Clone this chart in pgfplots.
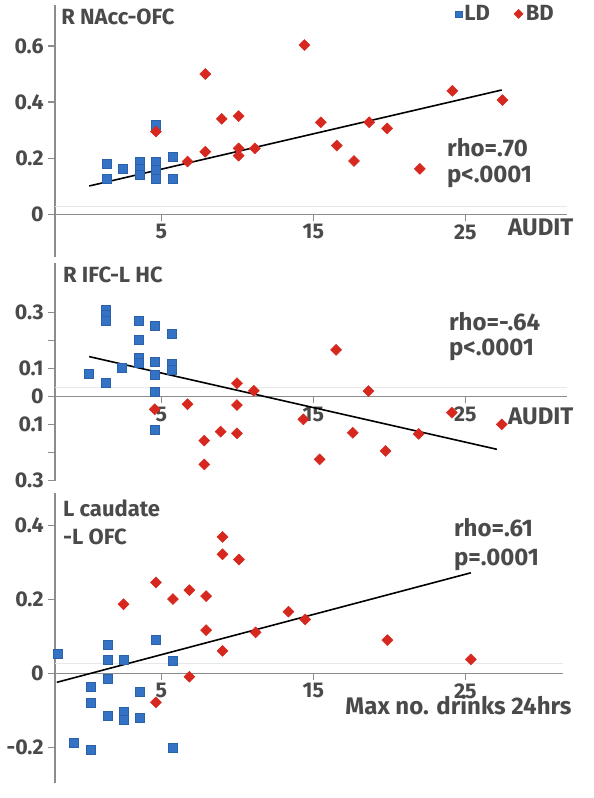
\documentclass[border=0pt]{standalone}
\usepackage{fontspec}
\setmainfont{Fira Sans}
\usepackage{pgfplots}
\pgfplotsset{compat=1.18}
\definecolor{ldblue}{HTML}{3372C4}
\definecolor{bdred}{HTML}{D6281E}
\definecolor{txt}{HTML}{4A4A4A}
\definecolor{axgray}{HTML}{8C8C8C}
\tikzset{lbl/.style={font=\fontsize{16.5}{18}\selectfont\bfseries, text=txt, inner sep=0pt, anchor=west},
  big/.style={font=\fontsize{18}{20}\selectfont\bfseries}}
\pgfplotsset{
  panel/.style={
    x=11.4pt, xmin=-2, xmax=31.7,
    anchor=south west, clip=false,
    axis x line=middle, axis y line=left,
    axis line style={-, axgray, line width=1.2pt},
    hide obscured x ticks=false, hide obscured y ticks=false,
    xtick={5,15,25}, xticklabels={5,15,25},
    xtick style={axgray, line width=0.9pt},
    ytick style={axgray, line width=1pt},
    tick align=outside, major tick length=5pt,
    tick label style={font=\fontsize{16}{18}\selectfont\bfseries, text=txt},
    x tick label style={yshift=1pt},
    /pgf/number format/assume math mode=true,
  },
  ld/.style={only marks, mark=square*, mark size=3.4pt, mark options={fill=ldblue, draw=ldblue!85!black, line width=0.3pt}},
  bd/.style={only marks, mark=square*, mark size=2.9pt, mark options={rotate=45, fill=bdred, draw=bdred}},
  reg/.style={black, line width=1.2pt, no marks},
}
\begin{document}
\begin{tikzpicture}
\useasboundingbox (0,0) rectangle (444.75pt,598.5pt);

% ---------- Panel 1 ----------
\begin{axis}[panel, at={(41.25pt,405.75pt)}, y=210.5pt, ymin=-0.152, ymax=0.746,
  ytick={0,0.2,0.4,0.6}, yticklabels={0,0.2,0.4,0.6},
  legend columns=2,
  legend style={draw=none, fill=none, at={(axis cs:31.0,0.714)}, anchor=east,
    font=\fontsize{16.5}{18}\selectfont\bfseries, text=txt, inner sep=0pt,
    /tikz/every even column/.append style={column sep=16pt}},
  legend image code/.code={\draw[#1, mark size=2.4pt] plot coordinates {(0.05cm,0cm)};},
]
\draw[gray!18, line width=1pt] (axis cs:-2,0.027) -- (axis cs:31.7,0.027);
\addplot[reg, forget plot] coordinates {(0.25,0.101) (27.39,0.443)};
\addplot[ld] coordinates {
(1.38,0.182) (1.38,0.128) (2.43,0.164) (3.56,0.188) (3.56,0.164) (3.56,0.140)
(4.64,0.318) (4.64,0.188) (4.64,0.158) (4.64,0.128) (5.76,0.205) (5.76,0.128)};
\addlegendentry{LD}
\addplot[bd] coordinates {
(4.64,0.295) (6.72,0.188) (7.89,0.500) (7.89,0.223) (8.97,0.340) (10.08,0.350)
(10.08,0.235) (10.08,0.209) (11.15,0.235) (14.41,0.603) (15.49,0.328) (16.54,0.245)
(17.67,0.190) (18.67,0.328) (19.85,0.306) (22.0,0.162) (24.14,0.440) (27.44,0.407)};
\addlegendentry{BD}
\node[lbl] at (axis cs:-1.6,0.703) {R NAcc-OFC};
\node[lbl, big] at (axis cs:23.78,0.236) {rho=.70};
\node[lbl, big] at (axis cs:23.78,0.133) {p<.0001};
\node[lbl, big] at (axis cs:27.8,-0.046) {AUDIT};
\end{axis}

% ---------- Panel 2 ----------
\begin{axis}[panel, at={(41.25pt,238.0pt)}, y=210pt, ymin=-0.3, ymax=0.476,
  ytick={-0.3,-0.2,-0.1,0,0.1,0.2,0.3}, yticklabels={0.3,,0.1,0,0.1,,0.3},
]
\draw[gray!18, line width=1pt] (axis cs:-2,0.032) -- (axis cs:31.7,0.032);
\addplot[reg] coordinates {(0.25,0.143) (27.07,-0.188)};
\addplot[ld] coordinates {
(0.2,0.083) (1.33,0.312) (1.33,0.292) (1.33,0.271) (1.33,0.051) (2.38,0.105)
(3.51,0.270) (3.51,0.205) (3.51,0.140) (3.51,0.121)
(4.56,0.254) (4.56,0.125) (4.56,0.077) (4.56,0.018) (4.56,-0.119)
(5.69,0.226) (5.69,0.117) (5.69,0.095)};
\addplot[bd] coordinates {
(4.56,-0.045) (6.72,-0.027) (7.82,-0.157) (7.82,-0.242) (8.9,-0.125) (9.97,0.048)
(9.97,-0.030) (9.97,-0.131) (11.08,0.021) (14.34,-0.081) (15.41,-0.224) (16.49,0.167)
(17.59,-0.129) (18.62,0.020) (19.75,-0.194) (21.93,-0.133) (24.11,-0.057) (27.39,-0.099)};
\node[lbl] at (axis cs:-1.48,0.434) {R IFC-L HC};
\node[lbl, big] at (axis cs:23.91,0.268) {rho=-.64};
\node[lbl, big] at (axis cs:23.91,0.167) {p<.0001};
\node[lbl, big] at (axis cs:27.8,-0.0715) {AUDIT};
\end{axis}

% ---------- Panel 3 ----------
\begin{axis}[panel, at={(41.25pt,11.0pt)}, y=277.5pt, ymin=-0.297, ymax=0.487, xmax=31.4,
  ytick={-0.2,0,0.2,0.4}, yticklabels={-0.2,0,0.2,0.4},
]
\draw[gray!18, line width=1pt] (axis cs:-2,0.027) -- (axis cs:31.4,0.027);
\addplot[reg] coordinates {(-1.88,-0.024) (25.36,0.272)};
\addplot[ld] coordinates {
(-1.83,0.054) (-0.75,-0.186) (0.33,-0.036) (0.33,-0.078) (0.33,-0.207)
(1.45,0.077) (1.45,0.038) (1.45,-0.014) (1.45,-0.113)
(2.51,0.038) (2.51,-0.104) (2.51,-0.126) (3.58,-0.050) (3.58,-0.120)
(4.64,0.090) (5.76,0.034) (5.76,-0.201)};
\addplot[bd] coordinates {
(2.51,0.187) (4.64,0.246) (4.64,-0.078) (5.76,0.201) (6.84,0.225) (6.84,-0.009)
(7.94,0.209) (7.94,0.117) (9.02,0.369) (9.02,0.322) (9.02,0.061) (10.1,0.308)
(11.2,0.111) (13.36,0.167) (14.46,0.146) (19.87,0.090) (25.36,0.038)};
\node[lbl] at (axis cs:-1.48,0.447) {L caudate};
\node[lbl] at (axis cs:-1.48,0.368) {-L OFC};
\node[lbl, big] at (axis cs:24.24,0.395) {rho=.61};
\node[lbl, big] at (axis cs:24.24,0.306) {p=.0001};
\node[lbl, big, anchor=east] at (axis cs:32.0,-0.084) {Max no. drinks 24hrs};
\end{axis}
\end{tikzpicture}
\end{document}
